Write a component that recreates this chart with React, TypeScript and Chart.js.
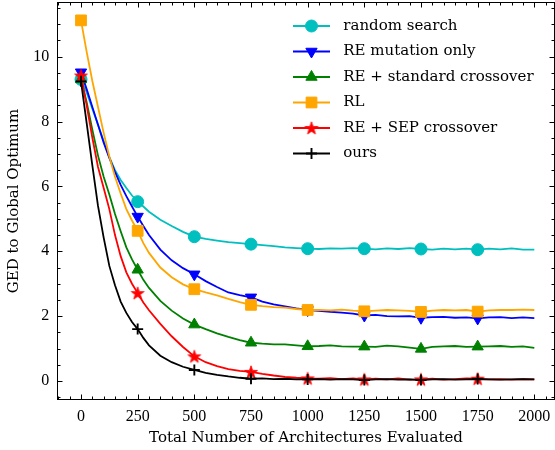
import React, { useEffect, useRef } from 'react';
import { Chart, registerables } from 'chart.js';
import { drawPoint } from 'chart.js/helpers';

Chart.register(...registerables);

// ---------- data ----------
const evaluations = [
  0, 25, 50, 75, 100, 125, 150, 175, 200, 225, 250, 275, 300, 350, 400, 450, 500,
  550, 600, 650, 700, 750, 800, 850, 900, 950, 1000, 1050, 1100, 1150, 1200, 1250,
  1300, 1350, 1400, 1450, 1500, 1550, 1600, 1650, 1700, 1750, 1800, 1850, 1900, 1950, 2000,
];

const randomSearch = [
  9.30, 8.90, 8.40, 7.90, 7.40, 6.90, 6.50, 6.20, 5.95, 5.72, 5.53, 5.38, 5.22, 4.97, 4.78, 4.60, 4.45,
  4.38, 4.33, 4.28, 4.25, 4.22, 4.19, 4.16, 4.12, 4.10, 4.08, 4.07, 4.09, 4.08, 4.10, 4.08,
  4.06, 4.09, 4.07, 4.10, 4.07, 4.05, 4.08, 4.06, 4.08, 4.05, 4.08, 4.06, 4.09, 4.05, 4.05,
];

const reMutationOnly = [
  9.52, 9.00, 8.45, 7.90, 7.35, 6.88, 6.45, 6.05, 5.70, 5.38, 5.07, 4.78, 4.50, 4.05, 3.72, 3.48, 3.29,
  3.08, 2.90, 2.73, 2.65, 2.58, 2.45, 2.36, 2.30, 2.24, 2.19, 2.16, 2.13, 2.11, 2.08, 2.02,
  2.04, 2.00, 1.99, 2.00, 1.95, 1.97, 1.98, 1.95, 1.96, 1.93, 1.96, 1.97, 1.94, 1.96, 1.94,
];

const reStandardCrossover = [
  9.30, 8.60, 7.75, 6.95, 6.30, 5.75, 5.15, 4.62, 4.12, 3.75, 3.43, 3.12, 2.87, 2.47, 2.17, 1.93, 1.74,
  1.60, 1.47, 1.36, 1.26, 1.18, 1.15, 1.13, 1.13, 1.10, 1.07, 1.08, 1.10, 1.07, 1.06, 1.06,
  1.05, 1.09, 1.07, 1.03, 0.99, 1.05, 1.07, 1.08, 1.05, 1.06, 1.07, 1.08, 1.05, 1.07, 1.02,
];

const rlSearch = [
  11.12, 10.15, 9.25, 8.45, 7.65, 6.92, 6.30, 5.78, 5.30, 4.95, 4.63, 4.25, 3.95, 3.50, 3.20, 2.98, 2.83,
  2.73, 2.64, 2.53, 2.43, 2.35, 2.31, 2.28, 2.26, 2.22, 2.19, 2.19, 2.18, 2.20, 2.17, 2.15,
  2.17, 2.19, 2.18, 2.16, 2.13, 2.17, 2.19, 2.18, 2.19, 2.14, 2.18, 2.19, 2.19, 2.20, 2.19,
];

const reSepCrossover = [
  9.42, 8.50, 7.50, 6.60, 5.95, 5.30, 4.50, 3.85, 3.35, 3.00, 2.71, 2.42, 2.18, 1.76, 1.38, 1.05, 0.76,
  0.58, 0.46, 0.37, 0.31, 0.28, 0.22, 0.17, 0.13, 0.10, 0.08, 0.07, 0.09, 0.06, 0.08, 0.05,
  0.07, 0.05, 0.08, 0.04, 0.05, 0.07, 0.04, 0.06, 0.08, 0.07, 0.05, 0.06, 0.04, 0.06, 0.05,
];

const ours = [
  9.24, 7.95, 6.65, 5.40, 4.42, 3.55, 2.95, 2.45, 2.10, 1.82, 1.60, 1.33, 1.10, 0.78, 0.58, 0.44, 0.34,
  0.25, 0.19, 0.14, 0.10, 0.07, 0.08, 0.06, 0.07, 0.05, 0.05, 0.06, 0.04, 0.06, 0.05, 0.03,
  0.05, 0.06, 0.04, 0.05, 0.03, 0.05, 0.06, 0.04, 0.05, 0.06, 0.05, 0.04, 0.05, 0.06, 0.05,
];

const seriesLabels = [
  'random search',
  'RE mutation only',
  'RE + standard crossover',
  'RL',
  'RE + SEP crossover',
  'ours',
];

const markerPositions = [0, 250, 500, 750, 1000, 1250, 1500, 1750];
const xTickValues = [0, 250, 500, 750, 1000, 1250, 1500, 1750, 2000];
const yTickValues = [0, 2, 4, 6, 8, 10];

const xLabel = 'Total Number of Architectures Evaluated';
const yLabel = 'GED to Global Optimum';

// ---------- styling ----------
const TEXT_FONT = '"DejaVu Serif", serif';
const TICK_FONT = '"Liberation Serif", serif';
const LINE_WIDTH = 1.8;

function makeStar(color: string): HTMLCanvasElement {
  const c = document.createElement('canvas');
  c.width = 16;
  c.height = 16;
  const g = c.getContext('2d')!;
  const outer = 6.8;
  const inner = 2.7;
  g.beginPath();
  for (let i = 0; i < 10; i++) {
    const r = i % 2 === 0 ? outer : inner;
    const a = -Math.PI / 2 + (i * Math.PI) / 5;
    const px = 8 + r * Math.cos(a);
    const py = 8.6 + r * Math.sin(a);
    if (i === 0) g.moveTo(px, py);
    else g.lineTo(px, py);
  }
  g.closePath();
  g.fillStyle = color;
  g.fill();
  g.strokeStyle = color;
  g.lineWidth = 0.8;
  g.stroke();
  return c;
}

type Spec = {
  data: number[];
  color: string;
  style: any;
  radius: number;
  rotation: number;
  borderWidth: number;
};

function buildSpecs(): Spec[] {
  return [
    { data: randomSearch, color: '#00bfbf', style: 'circle', radius: 6, rotation: 0, borderWidth: 1 },
    { data: reMutationOnly, color: '#0000ff', style: 'triangle', radius: 6.5, rotation: 180, borderWidth: 1 },
    { data: reStandardCrossover, color: '#008000', style: 'triangle', radius: 6.5, rotation: 0, borderWidth: 1 },
    { data: rlSearch, color: '#ffa500', style: 'rect', radius: 7.6, rotation: 0, borderWidth: 1 },
    { data: reSepCrossover, color: '#ff0000', style: makeStar('#ff0000'), radius: 6, rotation: 0, borderWidth: 1 },
    { data: ours, color: '#000000', style: 'cross', radius: 5.5, rotation: 0, borderWidth: 1.9 },
  ];
}

const zeroPadding = (scale: any) => {
  scale.paddingTop = 0;
  scale.paddingBottom = 0;
  scale.paddingLeft = 0;
  scale.paddingRight = 0;
};

export default function App() {
  const canvasRef = useRef<HTMLCanvasElement | null>(null);

  useEffect(() => {
    const canvas = canvasRef.current;
    if (!canvas) return;
    const specs = buildSpecs();

    const axesPlugin = {
      id: 'mplAxes',
      afterDraw(chart: any) {
        const { ctx, chartArea } = chart;
        const { left, right, top, bottom } = chartArea;
        const xs = chart.scales.x;
        const ys = chart.scales.y;
        ctx.save();
        ctx.strokeStyle = '#000';
        ctx.lineWidth = 1;
        ctx.strokeRect(left, top, right - left, bottom - top);
        ctx.beginPath();
        // x ticks (major every 250, minor every 50)
        for (let v = -100; v <= 2100; v += 50) {
          const px = Math.round(xs.getPixelForValue(v)) + 0.5;
          if (px < left || px > right) continue;
          const len = v % 250 === 0 ? 5 : 3;
          ctx.moveTo(px, bottom);
          ctx.lineTo(px, bottom - len);
          ctx.moveTo(px, top);
          ctx.lineTo(px, top + len);
        }
        // y ticks (major every 2, minor every 0.5)
        for (let k = -2; k <= 24; k++) {
          const v = k * 0.5;
          const py = Math.round(ys.getPixelForValue(v)) + 0.5;
          if (py < top || py > bottom) continue;
          const len = k % 4 === 0 ? 5 : 3;
          ctx.moveTo(left, py);
          ctx.lineTo(left + len, py);
          ctx.moveTo(right, py);
          ctx.lineTo(right - len, py);
        }
        ctx.stroke();

        // legend (matplotlib style: line sample + marker + label)
        const rowTop = top + 23.5;
        const rowGap = 25.5;
        const sampleStart = 293;
        const sampleEnd = 330;
        const textX = 343.3;
        ctx.font = `15px ${TEXT_FONT}`;
        ctx.textBaseline = 'middle';
        ctx.textAlign = 'left';
        specs.forEach((s, i) => {
          const y = rowTop + i * rowGap;
          ctx.strokeStyle = s.color;
          ctx.fillStyle = s.color;
          ctx.lineWidth = LINE_WIDTH;
          ctx.beginPath();
          ctx.moveTo(sampleStart, y);
          ctx.lineTo(sampleEnd, y);
          ctx.stroke();
          ctx.lineWidth = s.borderWidth;
          drawPoint(
            ctx,
            { pointStyle: s.style, radius: s.radius, rotation: s.rotation, borderWidth: s.borderWidth } as any,
            (sampleStart + sampleEnd) / 2,
            y,
          );
          ctx.fillStyle = '#000';
          ctx.fillText(seriesLabels[i], textX, y);
        });
        ctx.restore();
      },
    };

    const chart = new Chart(canvas, {
      type: 'line',
      data: {
        datasets: specs.map((s, i) => ({
          label: seriesLabels[i],
          data: evaluations.map((x, j) => ({ x, y: s.data[j] })),
          borderColor: s.color,
          backgroundColor: s.color,
          borderWidth: LINE_WIDTH,
          tension: 0,
          fill: false,
          order: specs.length - i,
          pointStyle: s.style,
          pointRotation: s.rotation,
          pointBackgroundColor: s.color,
          pointBorderColor: s.color,
          pointBorderWidth: s.borderWidth,
          pointRadius: (c: any) => {
            const raw = c.raw as { x: number } | undefined;
            return raw && markerPositions.includes(raw.x) ? s.radius : 0;
          },
          pointHoverRadius: 0,
        })),
      },
      options: {
        animation: false,
        responsive: false,
        devicePixelRatio: 1,
        events: [],
        layout: { autoPadding: false, padding: { top: 2.5, right: 0.5, left: 0, bottom: 0 } },
        plugins: {
          legend: { display: false },
          tooltip: { enabled: false },
        },
        scales: {
          x: {
            type: 'linear',
            min: -103.7,
            max: 2089,
            afterBuildTicks: (scale: any) => {
              scale.ticks = xTickValues.map((v) => ({ value: v }));
            },
            afterFit: (scale: any) => {
              scale.height = 50.5;
              zeroPadding(scale);
            },
            grid: { display: false, drawTicks: false },
            border: { display: false },
            ticks: {
              autoSkip: false,
              maxRotation: 0,
              padding: 7.5,
              color: '#000',
              font: { family: TICK_FONT, size: 16 },
              callback: (v: any) => String(v),
            },
            title: {
              display: true,
              text: xLabel,
              color: '#000',
              font: { family: TEXT_FONT, size: 15 },
              padding: { top: 0, bottom: 2.5 },
            },
          },
          y: {
            type: 'linear',
            min: -0.57,
            max: 11.671,
            afterBuildTicks: (scale: any) => {
              scale.ticks = yTickValues.map((v) => ({ value: v }));
            },
            afterFit: (scale: any) => {
              scale.width = 57.5;
              zeroPadding(scale);
            },
            grid: { display: false, drawTicks: false },
            border: { display: false },
            ticks: {
              padding: 8.3,
              color: '#000',
              font: { family: TICK_FONT, size: 16 },
              callback: (v: any) => String(v),
            },
            title: {
              display: true,
              text: yLabel,
              color: '#000',
              font: { family: TEXT_FONT, size: 15 },
              padding: { top: 5.5, bottom: 0 },
            },
          },
        },
      },
      plugins: [axesPlugin],
    });

    return () => {
      chart.destroy();
    };
  }, []);

  return (
    <div style={{ position: 'absolute', left: 0, top: 0, width: 555, height: 450, background: '#fff' }}>
      <canvas ref={canvasRef} width={555} height={450} style={{ display: 'block' }} />
    </div>
  );
}
